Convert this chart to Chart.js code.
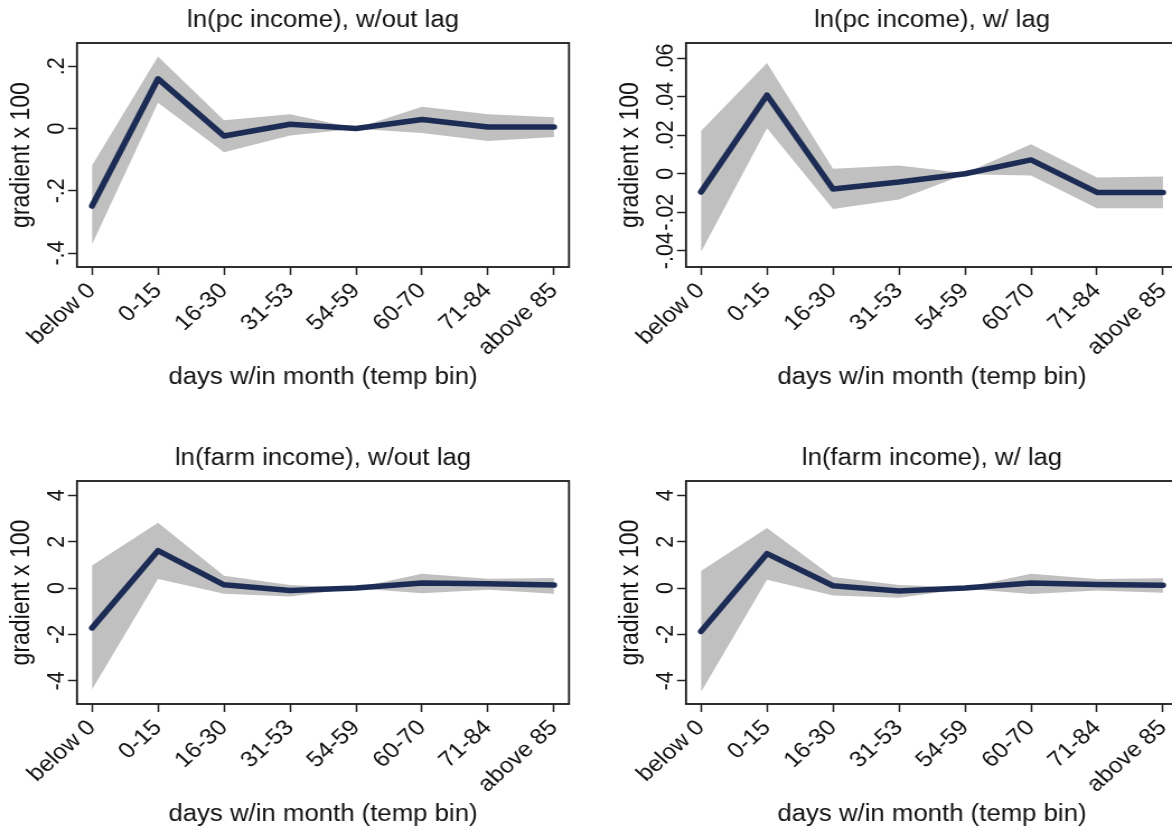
<!DOCTYPE html>
<html>
<head>
<meta charset="utf-8">
<script src="https://cdn.jsdelivr.net/npm/chart.js@4.4.0/dist/chart.umd.min.js"></script>
<style>
html, body { margin: 0; padding: 0; background: #fff; overflow: hidden; width: 1172px; height: 831px; }
</style>
</head>
<body>
<script>
var bins = ['below 0', '0-15', '16-30', '31-53', '54-59', '60-70', '71-84', 'above 85'];

// ln(pc income), w/out lag
var pcNoLagEst = [-0.249, 0.160, -0.024, 0.014, 0, 0.029, 0.005, 0.005];
var pcNoLagHi  = [-0.119, 0.232, 0.027, 0.046, 0.001, 0.070, 0.046, 0.036];
var pcNoLagLo  = [-0.373, 0.083, -0.076, -0.022, -0.001, -0.014, -0.040, -0.027];

// ln(pc income), w/ lag
var pcLagEst = [-0.0095, 0.0409, -0.0079, -0.0043, 0, 0.0072, -0.0097, -0.0097];
var pcLagHi  = [0.0222, 0.0576, 0.0026, 0.0043, 0.0003, 0.0153, -0.0019, -0.0014];
var pcLagLo  = [-0.0407, 0.0236, -0.0183, -0.0134, -0.0003, -0.0009, -0.0179, -0.0179];

// ln(farm income), w/out lag
var farmNoLagEst = [-1.72, 1.62, 0.14, -0.10, 0, 0.22, 0.19, 0.13];
var farmNoLagHi  = [0.97, 2.82, 0.53, 0.13, 0.01, 0.62, 0.40, 0.44];
var farmNoLagLo  = [-4.37, 0.39, -0.24, -0.36, -0.01, -0.22, -0.07, -0.24];

// ln(farm income), w/ lag
var farmLagEst = [-1.87, 1.49, 0.10, -0.13, 0, 0.22, 0.16, 0.12];
var farmLagHi  = [0.74, 2.59, 0.48, 0.13, 0.03, 0.62, 0.39, 0.42];
var farmLagLo  = [-4.48, 0.36, -0.32, -0.42, -0.03, -0.25, -0.10, -0.20];

var pcNoLagTicks = [-0.4, -0.2, 0, 0.2];
var pcNoLagTickLabels = ['-.4', '-.2', '0', '.2'];
var pcLagTicks = [-0.04, -0.02, 0, 0.02, 0.04, 0.06];
var pcLagTickLabels = ['-.04', '-.02', '0', '.02', '.04', '.06'];
var farmTicks = [-4, -2, 0, 2, 4];
var farmTickLabels = ['-4', '-2', '0', '2', '4'];

var NAVY = '#1c2c54';
var BAND = '#c0c0c0';
var INK = '#111';
var FONT = "'Liberation Sans', Arial, sans-serif";
var CW = 536, CSSW = 600, CH = 440;
var K = CSSW / CW;   // the reference is stretched sideways a bit

var measureCtx = document.createElement('canvas').getContext('2d');
function widestLabel(labels, size) {
    measureCtx.font = size + 'px ' + FONT;
    var w = 0;
    labels.forEach(function(l) { w = Math.max(w, measureCtx.measureText(l).width); });
    return w;
}

var framePlugin = {
    id: 'frame',
    afterDraw: function(chart) {
        var a = chart.chartArea, ctx = chart.ctx;
        ctx.save();
        ctx.strokeStyle = '#1a1a1a';
        ctx.lineWidth = 1.8;
        ctx.strokeRect(a.left, a.top, a.right - a.left, a.bottom - a.top);
        ctx.restore();
    }
};

function points(arr) {
    return arr.map(function(v, i) { return {x: i, y: v}; });
}

// frameTop / frameBottom are relative to the canvas
function makePanel(x, y, frameLeft, frameRight, frameTop, frameBottom, title, est, hi, lo, yTicks, yLabels, yMin, yMax) {
    var c = document.createElement('canvas');
    c.width = CW; c.height = CH;
    c.style.position = 'absolute';
    c.style.left = x + 'px'; c.style.top = y + 'px';
    c.style.width = CSSW + 'px'; c.style.height = CH + 'px';
    document.body.appendChild(c);

    var yAxisW = frameLeft / K;
    var padRight = CW - frameRight / K;
    var yTitleCenter = (frameLeft - 55) / K;
    var tickSize = 21.5;
    var labelPad = 9.4 - widestLabel(yLabels, tickSize) / 2;
    var titleH = 23 * 1.2;
    var titleTopPad = frameTop - 43 + 6.5;

    return new Chart(c, {
        type: 'line',
        data: {
            datasets: [
                { data: points(est), borderColor: NAVY, borderWidth: 5.5, pointRadius: 0, fill: false, tension: 0,
                  borderCapStyle: 'round', borderJoinStyle: 'round' },
                { data: points(hi), borderColor: 'rgba(0,0,0,0)', borderWidth: 0, pointRadius: 0, fill: '+1', backgroundColor: BAND },
                { data: points(lo), borderColor: 'rgba(0,0,0,0)', borderWidth: 0, pointRadius: 0, fill: false }
            ]
        },
        options: {
            responsive: false,
            animation: false,
            devicePixelRatio: 1,
            layout: { padding: { left: 0, right: padRight, top: 0, bottom: 0 } },
            plugins: {
                legend: { display: false },
                tooltip: { enabled: false },
                title: {
                    display: true, text: title, fullSize: false, color: INK,
                    font: { family: FONT, size: 23, weight: 'normal' },
                    padding: { top: titleTopPad, bottom: frameTop - titleTopPad - titleH }
                }
            },
            scales: {
                x: {
                    type: 'linear', min: -0.227, max: 7.227,
                    afterBuildTicks: function(s) { s.ticks = bins.map(function(b, i) { return {value: i}; }); },
                    afterFit: function(s) { s.height = CH - frameBottom; },
                    ticks: {
                        autoSkip: false, minRotation: 45, maxRotation: 45, padding: 3, color: INK,
                        font: { family: FONT, size: 22 },
                        callback: function(v) { return bins[v]; }
                    },
                    grid: { display: true, drawOnChartArea: false, drawTicks: true, tickLength: 8, tickColor: '#222', tickWidth: 1.5 },
                    border: { display: false },
                    title: {
                        display: true, text: 'days w/in month (temp bin)', color: INK,
                        font: { family: FONT, size: 23 }, padding: { top: 0, bottom: CH - frameBottom - 124 }
                    }
                },
                y: {
                    min: yMin, max: yMax,
                    afterBuildTicks: function(s) { s.ticks = yTicks.map(function(v) { return {value: v}; }); },
                    afterFit: function(s) { s.width = yAxisW; },
                    ticks: {
                        autoSkip: false, minRotation: 90, maxRotation: 90, crossAlign: 'center', padding: labelPad,
                        color: INK, font: { family: FONT, size: tickSize },
                        callback: function(v, i) { return yLabels[i]; }
                    },
                    grid: { display: true, drawOnChartArea: false, drawTicks: true, tickLength: 8, tickColor: '#222', tickWidth: 1.5 },
                    border: { display: false },
                    title: {
                        display: true, text: 'gradient x 100', color: INK,
                        font: { family: FONT, size: 23 }, padding: { top: yTitleCenter - 13.8, bottom: 0 }
                    }
                }
            }
        },
        plugins: [framePlugin]
    });
}

makePanel(0, 0, 77, 569, 43, 267, 'ln(pc income), w/out lag', pcNoLagEst, pcNoLagHi, pcNoLagLo,
    pcNoLagTicks, pcNoLagTickLabels, -0.445, 0.275);
makePanel(600, 0, 86, 578, 43, 267, 'ln(pc income), w/ lag', pcLagEst, pcLagHi, pcLagLo,
    pcLagTicks, pcLagTickLabels, -0.0485, 0.068);
makePanel(0, 438, 77, 569, 43, 266, 'ln(farm income), w/out lag', farmNoLagEst, farmNoLagHi, farmNoLagLo,
    farmTicks, farmTickLabels, -5.0, 4.62);
makePanel(600, 438, 86, 578, 43, 266, 'ln(farm income), w/ lag', farmLagEst, farmLagHi, farmLagLo,
    farmTicks, farmTickLabels, -5.0, 4.62);
</script>
</body>
</html>
